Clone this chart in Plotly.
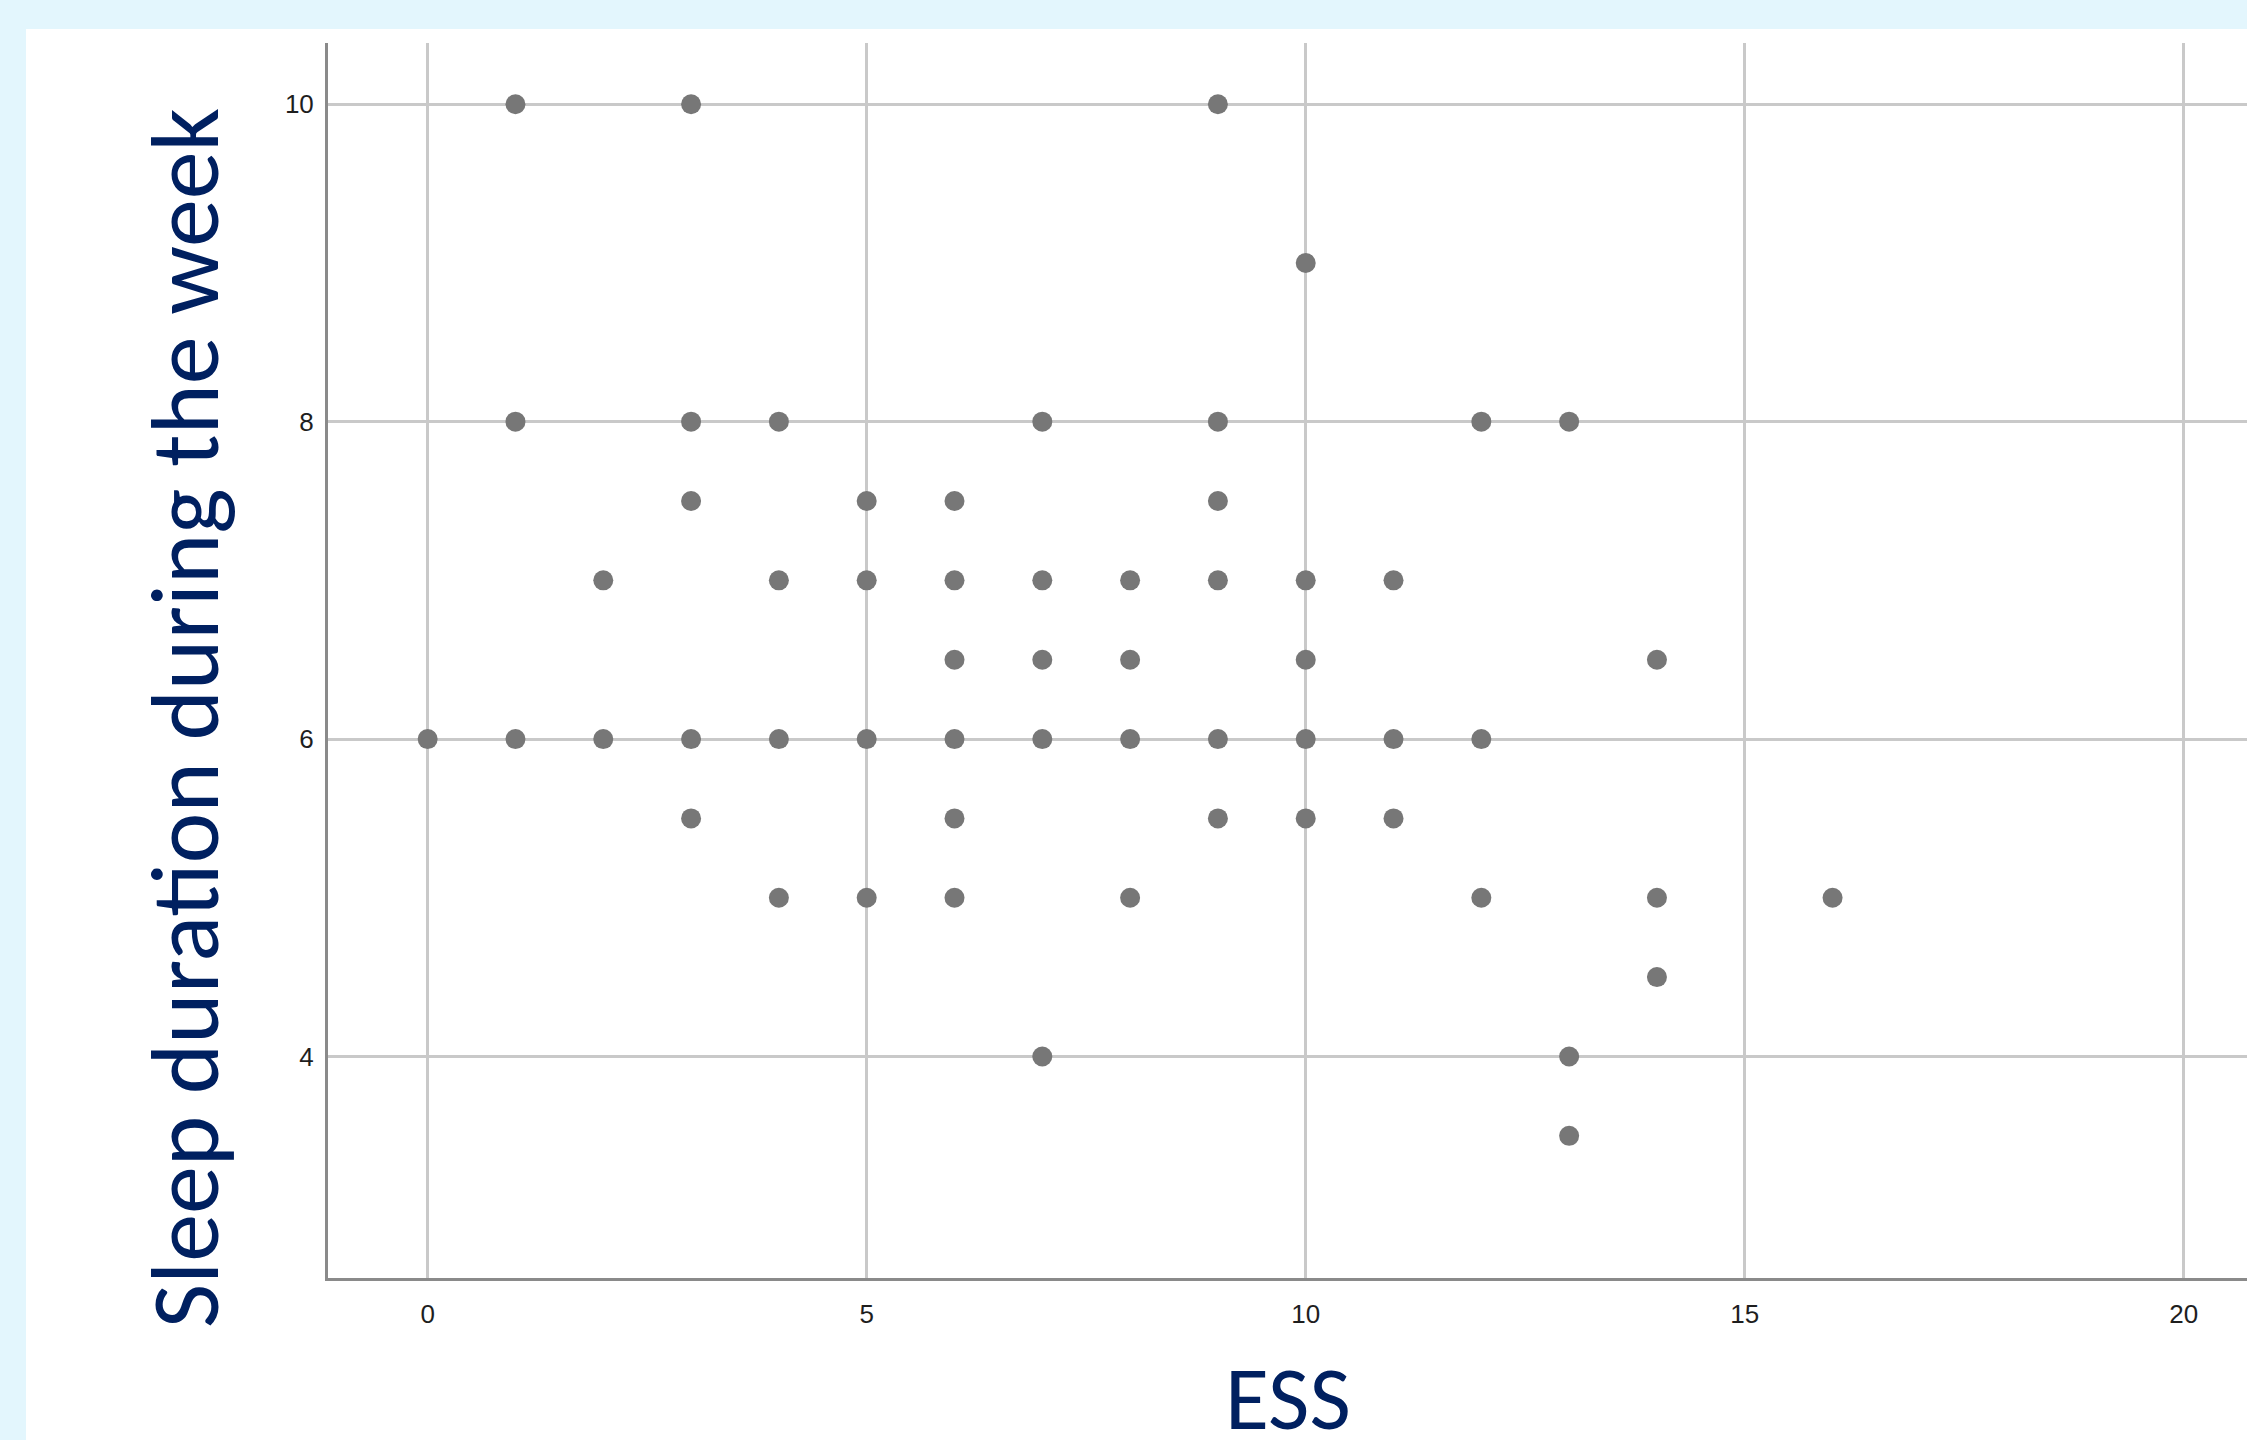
import plotly.graph_objects as go

# Data (ESS score vs. weekday sleep duration, hours)
ess = [1, 3, 9,
       10,
       1, 3, 4, 7, 9, 12, 13,
       3, 5, 6, 9,
       2, 4, 5, 6, 7, 8, 9, 10, 11,
       6, 7, 8, 10, 14,
       0, 1, 2, 3, 4, 5, 6, 7, 8, 9, 10, 11, 12,
       3, 6, 9, 10, 11,
       4, 5, 6, 8, 12, 14, 16,
       14,
       7, 13,
       13]
sleep = [10, 10, 10,
         9,
         8, 8, 8, 8, 8, 8, 8,
         7.5, 7.5, 7.5, 7.5,
         7, 7, 7, 7, 7, 7, 7, 7, 7,
         6.5, 6.5, 6.5, 6.5, 6.5,
         6, 6, 6, 6, 6, 6, 6, 6, 6, 6, 6, 6, 6,
         5.5, 5.5, 5.5, 5.5, 5.5,
         5, 5, 5, 5, 5, 5, 5,
         4.5,
         4, 4,
         3.5]

x_ticks = [0, 5, 10, 15, 20]
y_ticks = [4, 6, 8, 10]
x_title = "ESS"
y_title = "Sleep duration during the week"

W, H = 2247, 1440
L, R, T, B = 328, 0, 43, 162
PW, PH = W - L - R, H - T - B


def px_x(p):
    return (p - L) / PW


def px_y(p):
    return (H - B - p) / PH


fig = go.Figure()
fig.add_trace(go.Scatter(
    x=ess, y=sleep, mode="markers",
    marker=dict(size=20, color="#777777", line=dict(width=0)),
    showlegend=False, hoverinfo="x+y",
))

title_color = "#002060"
title_font = "Carlito, Lato, sans-serif"
tick_font = dict(family="Liberation Sans, Arial", size=26, color="#1E1E1E")

fig.update_layout(
    width=W, height=H,
    margin=dict(l=L, r=R, t=T, b=B, pad=0),
    paper_bgcolor="#E3F6FD",
    plot_bgcolor="white",
    xaxis=dict(
        range=[-1.135, 20.72], tickmode="array", tickvals=x_ticks,
        showgrid=True, gridcolor="#C9C9C9", gridwidth=2.5,
        zeroline=False, showline=True, linecolor="#8A8A8A", linewidth=3,
        ticks="", ticklabelstandoff=11, tickfont=tick_font,
    ),
    yaxis=dict(
        range=[2.604, 10.386], tickmode="array", tickvals=y_ticks,
        showgrid=True, gridcolor="#C9C9C9", gridwidth=2.5,
        zeroline=False, showline=True, linecolor="#8A8A8A", linewidth=3,
        ticks="", ticklabelstandoff=6, tickfont=tick_font,
    ),
    shapes=[dict(type="rect", xref="paper", yref="paper",
                 x0=px_x(26), x1=1.0, y0=px_y(H), y1=px_y(29),
                 fillcolor="white", line=dict(width=0), layer="below")],
    annotations=[
        dict(text=y_title, xref="paper", yref="paper",
             x=px_x(186), y=px_y(718),
             xanchor="center", yanchor="middle", textangle=-90, showarrow=False,
             font=dict(family=title_font, size=96, color=title_color)),
        dict(text=x_title, xref="paper", yref="paper",
             x=px_x(1288), y=px_y(1398),
             xanchor="center", yanchor="middle", showarrow=False,
             font=dict(family=title_font, size=90, color=title_color)),
    ],
)

fig.write_html(
    "out.html",
    config={"displayModeBar": False},
    post_script="document.body.style.margin='0';document.body.style.overflow='hidden';",
)
